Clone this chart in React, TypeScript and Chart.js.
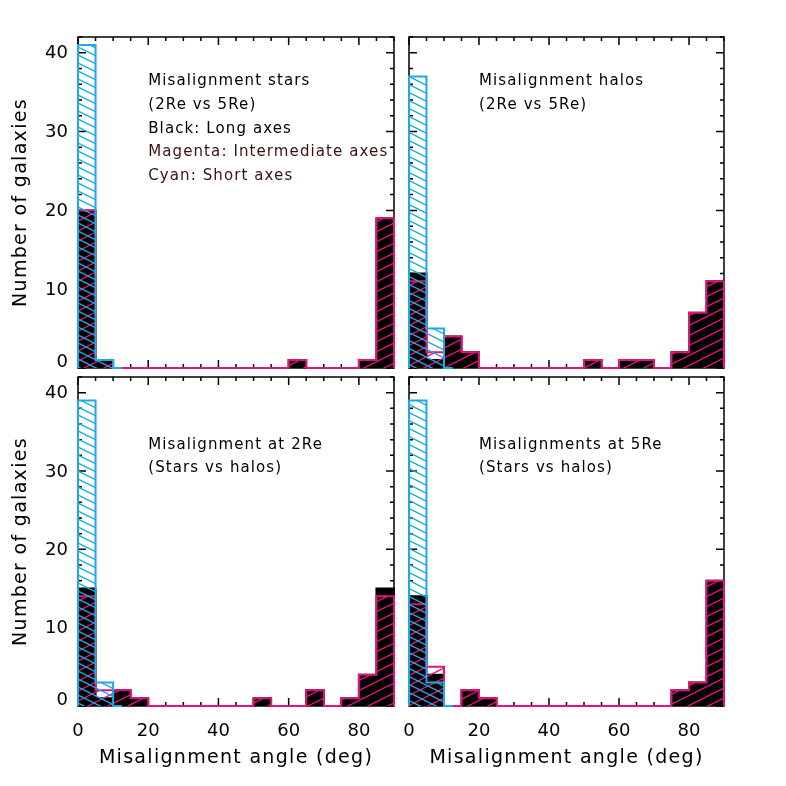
import React, { useEffect, useRef } from "react";
import { Chart, registerables } from "chart.js";

Chart.register(...registerables);

// ---------- data (counts per 5-degree bin, 0..90 deg) ----------
const BIN_WIDTH = 5;
const X_MIN = 0;
const X_MAX = 90;
const Y_MIN = 0;
const Y_MAX = 42;
const X_TICK_LABELS = [0, 20, 40, 60, 80];
const Y_TICK_LABELS = [0, 10, 20, 30, 40];
const X_MINOR_STEP = 5;
const Y_MINOR_STEP = 2;

const starsLong = [20, 1, 0, 0, 0, 0, 0, 0, 0, 0, 0, 0, 1, 0, 0, 0, 1, 19];
const starsInter = [20, 1, 0, 0, 0, 0, 0, 0, 0, 0, 0, 0, 1, 0, 0, 0, 1, 19];
const starsShort = [41, 1, 0, 0, 0, 0, 0, 0, 0, 0, 0, 0, 0, 0, 0, 0, 0, 0];

const halosLong = [12, 1, 4, 2, 0, 0, 0, 0, 0, 0, 1, 0, 1, 1, 0, 2, 7, 11];
const halosInter = [11, 2, 4, 2, 0, 0, 0, 0, 0, 0, 1, 0, 1, 1, 0, 2, 7, 11];
const halosShort = [37, 5, 0, 0, 0, 0, 0, 0, 0, 0, 0, 0, 0, 0, 0, 0, 0, 0];

const at2Long = [15, 1, 2, 1, 0, 0, 0, 0, 0, 0, 1, 0, 0, 2, 0, 1, 4, 15];
const at2Inter = [14, 2, 2, 1, 0, 0, 0, 0, 0, 0, 1, 0, 0, 2, 0, 1, 4, 14];
const at2Short = [39, 3, 0, 0, 0, 0, 0, 0, 0, 0, 0, 0, 0, 0, 0, 0, 0, 0];

const at5Long = [14, 4, 0, 2, 1, 0, 0, 0, 0, 0, 0, 0, 0, 0, 0, 2, 3, 16];
const at5Inter = [13, 5, 0, 2, 1, 0, 0, 0, 0, 0, 0, 0, 0, 0, 0, 2, 3, 16];
const at5Short = [39, 3, 0, 0, 0, 0, 0, 0, 0, 0, 0, 0, 0, 0, 0, 0, 0, 0];

const Y_TITLE = "Number of galaxies";
const X_TITLE = "Misalignment angle (deg)";

// ---------- styles ----------
const FONT = "'DejaVu Sans', 'Noto Sans', sans-serif";
const CYAN = "#1ea9e4";
const MAGENTA = "#e4127d";
const DARK = "#3c1010";
const NOTE_X = 20;
const NOTE_STEP = 3;

type Note = { text: string; color: string };
type PanelCfg = {
  id: string;
  long: number[];
  inter: number[];
  short: number[];
  notes: Note[];
  noteY: number;
  showX: boolean;
  showY: boolean;
  area: { left: number; top: number; right: number; bottom: number };
};

const PANELS: PanelCfg[] = [
  {
    id: "stars",
    long: starsLong,
    inter: starsInter,
    short: starsShort,
    notes: [
      { text: "Misalignment stars", color: "#000" },
      { text: "(2Re vs 5Re)", color: "#000" },
      { text: "Black: Long axes", color: "#000" },
      { text: "Magenta: Intermediate axes", color: DARK },
      { text: "Cyan: Short axes", color: DARK },
    ],
    noteY: 36,
    showX: false,
    showY: true,
    area: { left: 78, top: 37, right: 394, bottom: 368 },
  },
  {
    id: "halos",
    long: halosLong,
    inter: halosInter,
    short: halosShort,
    notes: [
      { text: "Misalignment halos", color: "#000" },
      { text: "(2Re vs 5Re)", color: "#000" },
    ],
    noteY: 36,
    showX: false,
    showY: false,
    area: { left: 409, top: 37, right: 724, bottom: 368 },
  },
  {
    id: "at2",
    long: at2Long,
    inter: at2Inter,
    short: at2Short,
    notes: [
      { text: "Misalignment at 2Re", color: "#000" },
      { text: "(Stars vs halos)", color: "#000" },
    ],
    noteY: 33,
    showX: true,
    showY: true,
    area: { left: 78, top: 377, right: 394, bottom: 706 },
  },
  {
    id: "at5",
    long: at5Long,
    inter: at5Inter,
    short: at5Short,
    notes: [
      { text: "Misalignments at 5Re", color: "#000" },
      { text: "(Stars vs halos)", color: "#000" },
    ],
    noteY: 33,
    showX: true,
    showY: false,
    area: { left: 409, top: 377, right: 724, bottom: 706 },
  },
];

const W = 786;
const H = 786;
const Y_AXIS_W = 60;
const X_AXIS_H = 60;

// step outline points for a histogram (IDL-like), built from bin counts
function stepPoints(counts: number[], trimTail: boolean) {
  let n = counts.length;
  if (trimTail) {
    let k = n - 1;
    while (k > 0 && counts[k] === 0) k--;
    n = k + 1;
  }
  const pts: { x: number; y: number }[] = [{ x: X_MIN, y: 0 }];
  for (let i = 0; i < n; i++) pts.push({ x: X_MIN + i * BIN_WIDTH, y: counts[i] });
  const end = X_MIN + n * BIN_WIDTH;
  pts.push({ x: end, y: 0 });
  if (trimTail && n < counts.length) pts.push({ x: end + BIN_WIDTH / 2, y: 0 });
  return pts;
}

function makeHatch(color: string, spacing: number, down: boolean, lw: number) {
  const h = spacing;
  const w = spacing * 2;
  const c = document.createElement("canvas");
  c.width = w;
  c.height = h;
  const g = c.getContext("2d")!;
  g.strokeStyle = color;
  g.lineWidth = lw;
  for (let k = -4; k <= 5; k++) {
    g.beginPath();
    if (down) {
      g.moveTo(-w, -h + k * h);
      g.lineTo(2 * w, 2 * h + k * h);
    } else {
      g.moveTo(-w, h + k * h);
      g.lineTo(2 * w, -2 * h + k * h);
    }
    g.stroke();
  }
  return g.createPattern(c, "repeat");
}

function decorPlugin(cfg: PanelCfg) {
  return {
    id: "decor" + cfg.id,
    beforeDatasetsDraw(chart: any) {
      const { ctx, chartArea: a } = chart;
      const xs = chart.scales.x;
      const ys = chart.scales.y;
      ctx.save();
      ctx.strokeStyle = "#000";
      ctx.lineWidth = 1.5;
      ctx.strokeRect(a.left, a.top, a.right - a.left, a.bottom - a.top);
      ctx.beginPath();
      for (let v = X_MIN; v <= X_MAX; v += X_MINOR_STEP) {
        const px = xs.getPixelForValue(v);
        const len = X_TICK_LABELS.includes(v) ? 8 : 4;
        ctx.moveTo(px, a.top);
        ctx.lineTo(px, a.top + len);
        ctx.moveTo(px, a.bottom);
        ctx.lineTo(px, a.bottom - len);
      }
      for (let v = Y_MIN; v <= Y_MAX; v += Y_MINOR_STEP) {
        const py = ys.getPixelForValue(v);
        const len = Y_TICK_LABELS.includes(v) ? 8 : 4;
        ctx.moveTo(a.left, py);
        ctx.lineTo(a.left + len, py);
        ctx.moveTo(a.right, py);
        ctx.lineTo(a.right - len, py);
      }
      ctx.stroke();
      ctx.restore();
    },
    afterDatasetsDraw(chart: any) {
      const { ctx, chartArea: a } = chart;
      const xs = chart.scales.x;
      const ys = chart.scales.y;
      ctx.save();
      ctx.textAlign = "left";
      ctx.textBaseline = "alphabetic";
      ctx.font = `15px ${FONT}`;
      (ctx as any).letterSpacing = "1.1px";
      cfg.notes.forEach((n, i) => {
        ctx.fillStyle = n.color;
        ctx.fillText(n.text, xs.getPixelForValue(NOTE_X), ys.getPixelForValue(cfg.noteY - i * NOTE_STEP) + 1);
      });
      ctx.font = `19px ${FONT}`;
      (ctx as any).letterSpacing = "1.3px";
      ctx.fillStyle = "#000";
      ctx.textAlign = "center";
      if (cfg.showX) {
        ctx.fillText(X_TITLE, (a.left + a.right) / 2, a.bottom + 57);
      }
      if (cfg.showY) {
        ctx.translate(a.left - 52, (a.top + a.bottom) / 2);
        ctx.rotate(-Math.PI / 2);
        ctx.fillText(Y_TITLE, 0, 0);
      }
      ctx.restore();
    },
  };
}

function Panel({ cfg }: { cfg: PanelCfg }) {
  const ref = useRef<HTMLCanvasElement>(null);
  useEffect(() => {
    const canvas = ref.current!;
    const magentaHatch = makeHatch(MAGENTA, 10, false, 1.4);
    const cyanHatch = makeHatch(CYAN, 8, true, 1.4);
    const a = cfg.area;
    const padding = {
      left: a.left - (cfg.showY ? Y_AXIS_W : 0),
      top: a.top,
      right: W - a.right,
      bottom: H - a.bottom - (cfg.showX ? X_AXIS_H : 0),
    };
    const tickFont = { family: FONT, size: 18 };
    const common = {
      fill: "origin",
      stepped: "before",
      pointRadius: 0,
      tension: 0,
      borderWidth: 2,
      borderJoinStyle: "miter",
      borderCapStyle: "butt",
      clip: 4,
    };
    const chart = new Chart(canvas, {
      type: "line",
      data: {
        datasets: [
          {
            ...common,
            label: "Long axes",
            data: stepPoints(cfg.long, false),
            borderColor: "#000",
            backgroundColor: "#000",
            order: 3,
          },
          {
            ...common,
            label: "Intermediate axes",
            data: stepPoints(cfg.inter, false),
            borderColor: MAGENTA,
            backgroundColor: magentaHatch,
            order: 2,
          },
          {
            ...common,
            label: "Short axes",
            data: stepPoints(cfg.short, true),
            borderColor: CYAN,
            backgroundColor: cyanHatch,
            order: 1,
          },
        ] as any,
      },
      options: {
        responsive: false,
        animation: false,
        devicePixelRatio: 1,
        events: [],
        layout: { padding },
        plugins: {
          legend: { display: false },
          tooltip: { enabled: false },
        },
        scales: {
          x: {
            type: "linear",
            min: X_MIN,
            max: X_MAX,
            display: cfg.showX,
            grid: { display: false, drawTicks: false },
            border: { display: false },
            afterBuildTicks: (s: any) => {
              s.ticks = X_TICK_LABELS.map((v) => ({ value: v }));
            },
            afterFit: (s: any) => {
              if (cfg.showX) s.height = X_AXIS_H;
            },
            ticks: {
              autoSkip: false,
              maxRotation: 0,
              minRotation: 0,
              padding: 15,
              color: "#000",
              font: tickFont,
            },
          },
          y: {
            type: "linear",
            min: Y_MIN,
            max: Y_MAX,
            display: cfg.showY,
            grid: { display: false, drawTicks: false },
            border: { display: false },
            afterBuildTicks: (s: any) => {
              s.ticks = Y_TICK_LABELS.map((v) => ({ value: v }));
            },
            afterFit: (s: any) => {
              if (cfg.showY) s.width = Y_AXIS_W;
            },
            ticks: {
              autoSkip: false,
              padding: 10,
              labelOffset: 1,
              color: "#000",
              // the lowest label sits slightly above its tick, as in the original
              callback: (v: number) => (v === Y_MIN ? [String(v), ""] : String(v)),
              font: (c: any) =>
                c.tick && c.tick.value === Y_MIN
                  ? { family: FONT, size: 18, lineHeight: 0.75 }
                  : tickFont,
            },
          },
        },
      } as any,
      plugins: [decorPlugin(cfg)],
    });
    return () => chart.destroy();
  }, [cfg]);
  return (
    <canvas
      ref={ref}
      width={W}
      height={H}
      style={{ position: "absolute", left: 0, top: 0, width: W, height: H }}
    />
  );
}

export default function App() {
  return (
    <div style={{ position: "absolute", left: 0, top: 0, width: W, height: H, background: "#fff" }}>
      {PANELS.map((p) => (
        <Panel key={p.id} cfg={p} />
      ))}
    </div>
  );
}
